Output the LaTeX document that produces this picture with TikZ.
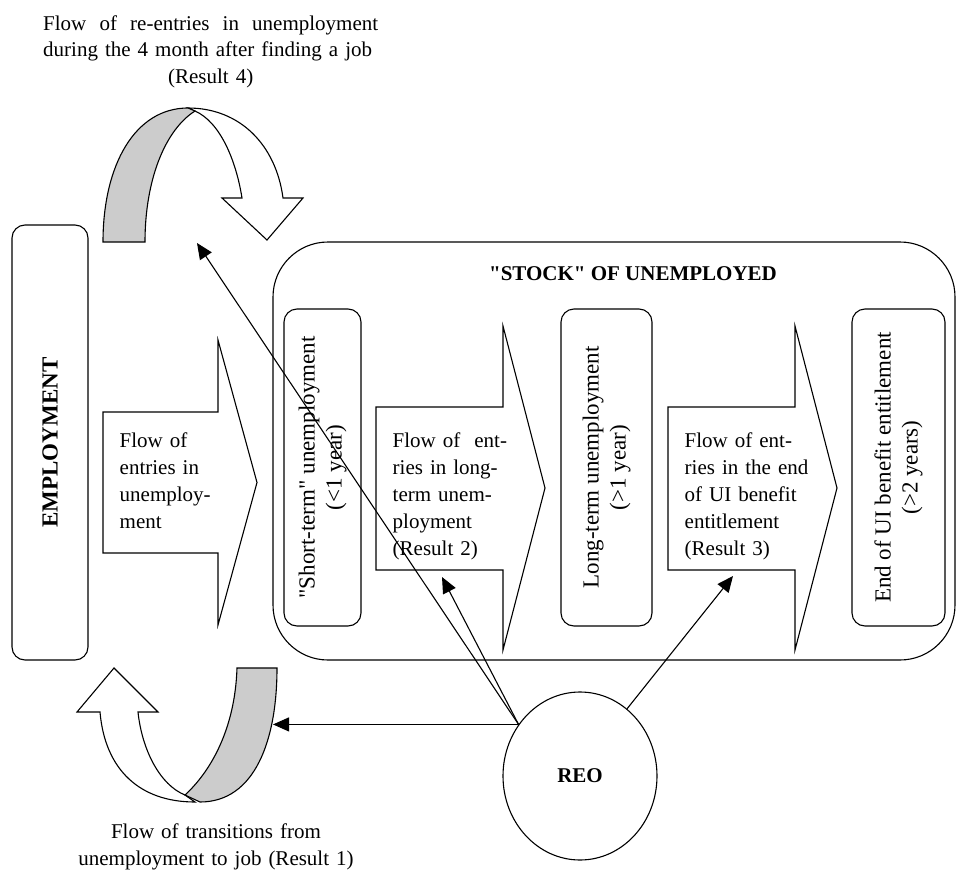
\documentclass[tikz,border=0pt]{standalone}
\usepackage{fontspec}
\setmainfont{Liberation Serif}
\usetikzlibrary{arrows.meta,shapes.geometric}
\definecolor{bandgray}{RGB}{204,204,204}

\begin{document}
\begin{tikzpicture}[x=1pt, y=-1pt,
    box/.style={draw, line width=1.1pt, rounded corners=13pt, rotate=90, align=center, inner sep=0pt, font=\fontsize{23}{27}\selectfont},
    flowline/.style={draw, line width=1.1pt},
    flowtext/.style={text width=135pt, align=left, inner sep=0pt, font=\fontsize{21}{27}\selectfont},
    caption/.style={inner sep=0pt, font=\fontsize{21}{27}\selectfont},
    arr/.style={-{Triangle[length=16pt,width=14pt]}, line width=1.1pt}]
        % Размер рисунка
        \useasboundingbox (0,0) rectangle (956,870);
        \def\boxh{317}

        % Занятость
        \node[box, minimum width=435, minimum height=76, font=\bfseries\fontsize{23}{27}\selectfont] (employment) at (50,442.5) {EMPLOYMENT};

        % Запас безработных
        \node[draw, line width=1.1pt, rounded corners=55pt, minimum width=682, minimum height=418] (stock) at (614,451) {};
        \node[caption, anchor=base, font=\bfseries\fontsize{21}{27}\selectfont] (stocktitle) at (633,280) {\textquotedbl STOCK\textquotedbl{} OF UNEMPLOYED};

        \node[box, minimum width=\boxh, minimum height=77] (short) at (322.5,467.5) {\textquotedbl Short-term\textquotedbl{} unemployment\\(<1 year)};
        \node[box, minimum width=\boxh, minimum height=91] (long) at (606.5,467.5) {Long-term unemployment\\(>1 year)};
        \node[box, minimum width=\boxh, minimum height=93] (endui) at (898.5,467.5) {End of UI benefit entitlement\\(>2 years)};

        % Потоки (стрелки-блоки)
        \foreach \n/\xl/\xr/\xt/\yt/\yb/\ht/\hb/\ym in {
            one/103/218/257/412/553/340/625/482.5,
            two/376/503/545/407/570/326/650/488,
            three/668/795/837/407/570/326/650/488}
        {
            \draw[flowline] (\xl,\yt) -- (\xr,\yt) -- (\xr,\ht) -- (\xt,\ym) -- (\xr,\hb) -- (\xr,\yb) -- (\xl,\yb) -- cycle;
            \coordinate (flow\n) at (\xl+16.5,447);
        }
        \node[flowtext, anchor=base west] (textone) at (flowone) {Flow of\\entries in\\unemploy-\\ment};
        \node[flowtext, anchor=base west] (texttwo) at (flowtwo) {Flow of~ ent-\\ries in long-\\term unem-\\ployment\\(Result 2)};
        \node[flowtext, anchor=base west] (textthree) at (flowthree) {Flow of ent-\\ries in the end\\of UI benefit\\entitlement\\(Result 3)};

        % Повторный вход в безработицу
        \draw[flowline, fill=white] (188,108) .. controls (240,108) and (276,145) .. (283,198) -- (303,198) -- (267,240) -- (222,198) -- (242,198) .. controls (236,160) and (220,122) .. (195,111) -- cycle;
        \draw[flowline, fill=bandgray] (103,242) .. controls (103,165) and (135,108) .. (188,108) -- (195,111) .. controls (165,130) and (145,180) .. (145,242) -- cycle;
        \node[caption, anchor=base west, text width=335pt, align=left] (resfour) at (43,30) {{\spaceskip=0pt\makebox[335pt][s]{Flow of re-entries in unemployment}}\\during the 4 month after finding a job\\\hbox to 335pt{\hfil(Result 4)\hfil}};

        % Переход к работе
        \draw[flowline, fill=white] (100,712) .. controls (105,770) and (140,802) .. (195,802) -- (185,795) .. controls (160,785) and (142,750) .. (138,712) -- (158,712) -- (114,668) -- (77,712) -- cycle;
        \draw[flowline, fill=bandgray] (237,668) -- (277,668) .. controls (277,740) and (255,802) .. (200,802) -- (185,795) .. controls (210,772) and (235,730) .. (237,668) -- cycle;
        \node[caption, anchor=base, text width=335pt, align=center] (resone) at (216,838) {Flow of transitions from\\unemployment to job (Result 1)};

        % REO
        \node[draw, ellipse, line width=1.1pt, minimum width=154, minimum height=168, font=\bfseries\fontsize{21}{27}\selectfont] (REO) at (580,776) {REO};

        \coordinate (tipfour) at (197,243);
        \coordinate (tiptwo) at (442,577);
        \coordinate (tipthree) at (733,576);
        \coordinate (tipone) at (273,725);

        \draw[arr] (REO.140) -- (tipfour);
        \draw[arr] (REO.140) -- (tiptwo);
        \draw[arr] (REO.55) -- (tipthree);
        \draw[arr] (REO.140) -- (REO.140 -| tipone);
\end{tikzpicture}
\end{document}
